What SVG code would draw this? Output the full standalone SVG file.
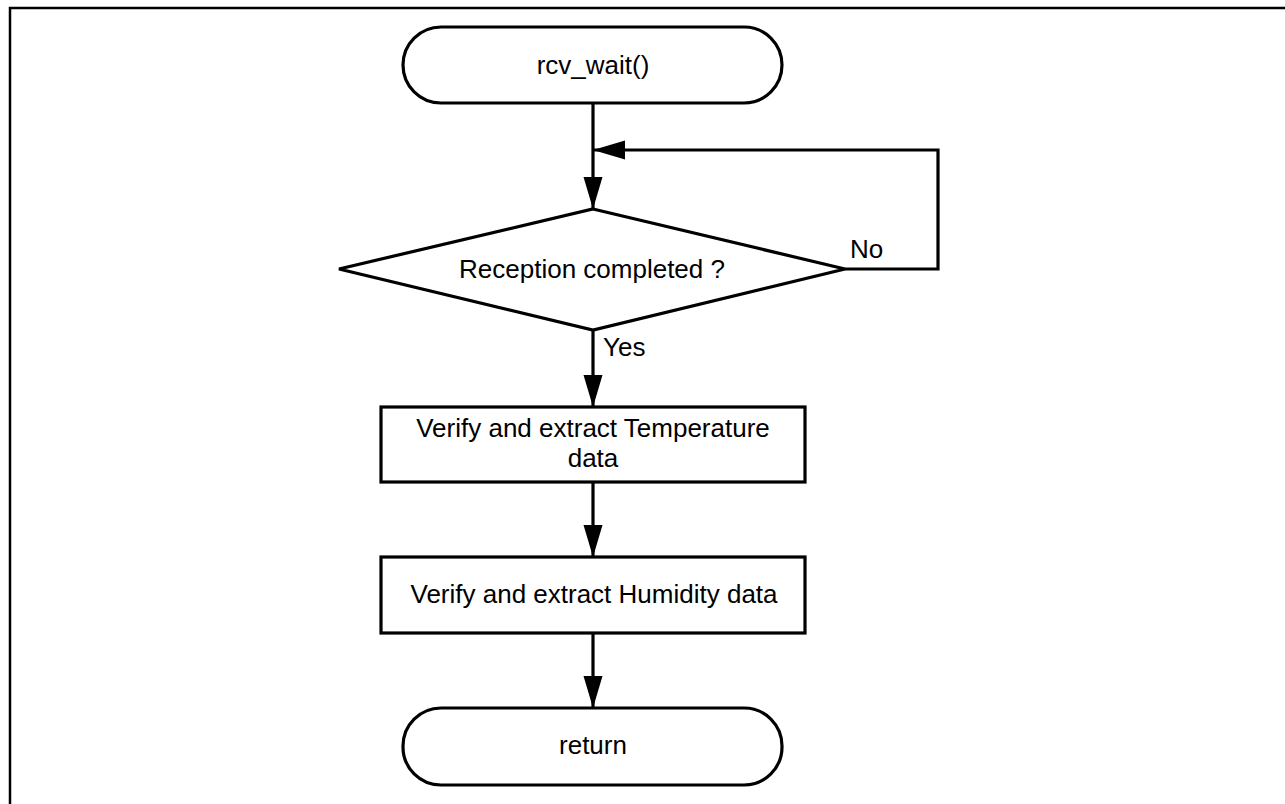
<svg xmlns="http://www.w3.org/2000/svg" width="1285" height="804" viewBox="0 0 1285 804">
  <style>
    .shape { fill: #ffffff; stroke: #000000; stroke-width: 3.2; }
    .flow { fill: none; stroke: #000000; stroke-width: 3.2; }
    .frame { fill: none; stroke: #000000; stroke-width: 2.5; }
    .label { font-family: "Liberation Sans", Arial, sans-serif; font-size: 26px; fill: #000000; }
    .mid { text-anchor: middle; }
  </style>
  <defs>
    <marker id="arrow" markerUnits="userSpaceOnUse" markerWidth="34" markerHeight="20" refX="32" refY="9.5" orient="auto">
      <path d="M0,0 L32,9.5 L0,19 Z" fill="#000000"/>
    </marker>
  </defs>

  <rect x="0" y="0" width="1285" height="804" fill="#ffffff"/>

  <!-- page frame (top and left edges) -->
  <path class="frame" d="M10,804 L10,8 L1285,8"/>

  <!-- connectors -->
  <g id="connectors">
    <path class="flow" d="M593,103 L593,209" marker-end="url(#arrow)"/>
    <path class="flow" d="M845,269 L938,269 L938,150 L593,150" marker-end="url(#arrow)"/>
    <path class="flow" d="M593,330 L593,407" marker-end="url(#arrow)"/>
    <path class="flow" d="M593,482 L593,557" marker-end="url(#arrow)"/>
    <path class="flow" d="M593,633 L593,708" marker-end="url(#arrow)"/>
    <text class="label" x="850" y="258">No</text>
    <text class="label" x="603" y="356">Yes</text>
  </g>

  <!-- start terminal -->
  <g id="start">
    <rect class="shape" x="403" y="27" width="379" height="76" rx="38" ry="38"/>
    <text class="label mid" x="593" y="74">rcv_wait()</text>
  </g>

  <!-- decision -->
  <g id="check-reception">
    <polygon class="shape" points="593,209 845,269 593,330 339,269"/>
    <text class="label mid" x="592" y="278">Reception completed ?</text>
  </g>

  <!-- temperature step -->
  <g id="extract-temperature">
    <rect class="shape" x="381" y="407" width="424" height="75"/>
    <text class="label mid" x="593" y="437">Verify and extract Temperature</text>
    <text class="label mid" x="593" y="467">data</text>
  </g>

  <!-- humidity step -->
  <g id="extract-humidity">
    <rect class="shape" x="381" y="557" width="424" height="76"/>
    <text class="label mid" x="594" y="603">Verify and extract Humidity data</text>
  </g>

  <!-- end terminal -->
  <g id="end">
    <rect class="shape" x="403" y="708" width="379" height="77" rx="38" ry="38"/>
    <text class="label mid" x="593" y="754">return</text>
  </g>
</svg>
